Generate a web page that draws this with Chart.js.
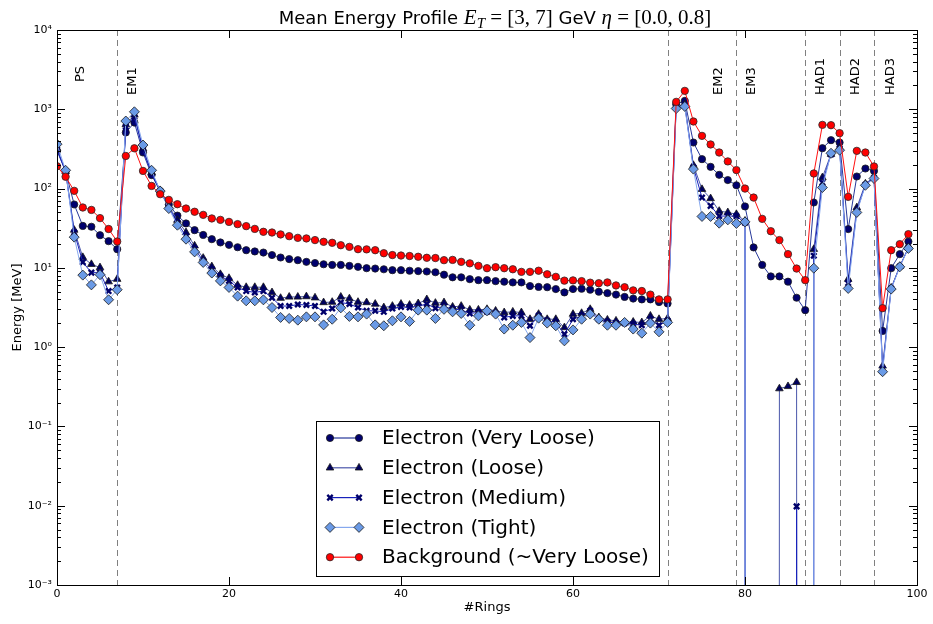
<!DOCTYPE html>
<html lang="en">
<head>
<meta charset="utf-8">
<script src="https://cdn.jsdelivr.net/npm/chart.js"></script>
<style>
  html, body { margin: 0; padding: 0; background: #fff; }
  #wrap { width: 933px; height: 624px; }
</style>
</head>
<body>
<div id="wrap"><canvas id="profileChart"></canvas></div>
<script>
// ring index on the x axis
const rings = Array.from({ length: 100 }, (_, i) => i);

// mean energy per ring [MeV] (0 = empty ring, below the axis)
const veryLoose = [
  299, 165, 63, 33.8, 33, 25.8, 21.7, 17.2, 510, 680, 285, 148, 93, 63, 45.6, 36.3, 29.9,
  26, 23, 20.9, 19.5, 18.2, 16.7, 16.1, 15.6, 14.5, 13.5, 12.9, 12.5, 11.9, 11.5, 11.1, 10.9, 10.9,
  10.6, 10.3, 9.9, 9.8, 9.6, 9.35, 9.35, 9.2, 9.1, 9.0, 8.8, 8.2,
  7.6, 7.6, 7.2, 7.0, 7.0, 6.8, 6.7, 6.55, 6.55, 5.9, 5.75, 5.7, 5.4, 4.9, 5.4, 5.45, 5.3, 5.0,
  4.8, 4.6, 4.3, 4.1, 4.0, 4.0, 3.7, 3.55,
  1160, 1276, 381, 235, 188, 149, 128, 110, 59.5, 18.1, 10.9, 7.8, 7.8, 6.7, 4.2, 2.93,
  66.7, 323, 408, 381, 30.8, 142, 179, 167, 1.6, 9.9, 14.9, 21.5
];
const loose = [
  320, 165, 30, 13.6, 11.1, 10.1, 6.7, 7.2, 640, 850, 320, 160, 95, 60, 40, 28, 19,
  13.3, 10.4, 8.3, 7.4, 6.05, 5.7, 5.7, 5.7, 4.9, 4.15, 4.3, 4.3, 4.35, 4.2, 3.66, 3.7, 4.3,
  4.1, 3.7, 3.66, 3.5, 3.16, 3.3, 3.5, 3.4, 3.56, 4.0, 3.6, 3.66,
  3.22, 3.3, 2.96, 2.96, 3.01, 2.87, 2.74, 2.79, 2.74, 2.25, 2.61, 2.25, 2.25, 1.77, 2.61, 2.68, 3.01, 2.37,
  2.21, 2.15, 2.05, 2.08, 2.05, 2.48, 2.25, 2.3,
  1100, 1150, 197, 98, 75, 52, 50, 47.5, 39, 0, 0, 0, 0.30, 0.32, 0.36, 0,
  17.2, 138, 272, 330, 7.2, 57.7, 115, 140, 0.58, 5.6, 10.5, 18
];
const medium = [
  310, 165, 28, 11.8, 8.7, 8.7, 5.1, 5.65, 600, 800, 310, 155, 92, 58, 37, 25, 17.5,
  12.2, 9.6, 7.9, 6.85, 5.66, 5.1, 4.9, 5.1, 4.2, 3.3, 3.3, 3.45, 3.4, 3.3, 2.79, 3.07, 3.66,
  3.5, 3.16, 2.87, 2.87, 2.79, 3.07, 3.22, 3.16, 3.3, 3.5, 3.1, 3.26,
  3.01, 2.96, 2.66, 2.74, 2.79, 2.68, 2.37, 2.48, 2.48, 1.86, 2.48, 2.15, 2.05, 1.46, 2.25, 2.48, 2.87, 2.25,
  2.08, 2.01, 2.01, 1.95, 1.89, 2.25, 1.89, 2.15,
  1080, 1120, 185, 77, 60.5, 45, 45, 45, 37, 0, 0, 0, 0, 0, 0.0098, 0,
  14.2, 119, 270, 320, 6.4, 52, 112, 137, 0.53, 5.5, 10.4, 17.8
];
const tight = [
  363, 170, 24.4, 8.1, 6.1, 8.2, 3.96, 5.3, 711, 930, 354, 170, 93, 56, 34.5, 23, 15.9,
  11.7, 8.6, 6.85, 5.66, 4.4, 3.84, 3.84, 3.95, 3.16, 2.37, 2.3, 2.19, 2.41, 2.41, 1.91, 2.25, 3.13,
  2.44, 2.41, 2.61, 1.91, 1.86, 2.15, 2.41, 2.11, 2.93, 2.93, 2.3, 3.0,
  2.79, 2.66, 1.89, 2.48, 2.87, 2.61, 1.69, 1.89, 2.05, 1.32, 2.32, 2.01, 1.86, 1.2, 1.65, 2.25, 2.61, 2.25,
  1.89, 1.89, 2.05, 1.69, 1.5, 2.01, 1.56, 2.05,
  1024, 1085, 176, 44.5, 44.5, 36.6, 40.3, 36.3, 38, 0, 0, 0, 0, 0, 0, 0,
  9.9, 103, 279, 305, 5.5, 50, 110, 134, 0.49, 5.4, 10.3, 17.6
];
const background = [
  191, 141, 93.6, 57.7, 53.8, 42.4, 30.9, 21.5, 258, 322, 167, 108, 85, 72, 63.5, 56, 51,
  46.6, 42, 40.3, 38, 35.6, 33.6, 31, 28.5, 27.9, 26.4, 25.1, 23.9, 23.5, 22.4, 21.3, 20.7, 19.3,
  18.4, 17.2, 17.1, 16.7, 15.3, 14.5, 14.3, 14.1, 13.8, 13.4, 13.3, 12.5,
  12.6, 11.9, 11.4, 10.6, 9.9, 10.2, 9.9, 9.6, 8.9, 8.9, 9.2, 8.3, 7.7, 6.9, 6.95, 6.8, 6.5, 6.4,
  6.55, 6.0, 5.7, 5.2, 5.1, 4.6, 4.0, 4.0,
  1240, 1707, 702, 462, 360, 285, 220, 171, 100, 77, 41.5, 29, 22.4, 14.9, 9.8, 7.0,
  155, 636, 630, 500, 78.6, 299, 285, 190, 3.1, 16.7, 19.9, 26.6
];

const seriesLabels = ['Electron (Very Loose)', 'Electron (Loose)', 'Electron (Medium)', 'Electron (Tight)', 'Background (~Very Loose)'];
const layerBounds = [7, 71, 79, 87, 91, 95];
const layerNames = ['PS', 'EM1', 'EM2', 'EM3', 'HAD1', 'HAD2', 'HAD3'];
const yTicks = [1e-3, 1e-2, 1e-1, 1, 10, 100, 1000, 10000];

// styling per series (same order as seriesLabels)
const looks = [
  { line: '#27389a', fill: '#00006e', edge: '#1a1a1a', style: 'circle', r: 3.6, ew: 0.8 },
  { line: '#4a56aa', fill: '#00005e', edge: '#1a1a1a', style: 'triangle', r: 4.4, ew: 0.8 },
  { line: '#1822bb', fill: '#00006a', edge: '#00006a', style: 'crossRot', r: 3.8, ew: 2.4 },
  { line: '#86a8ee', fill: '#6a9ae6', edge: '#1a1a1a', style: 'rectRot', r: 5.0, ew: 0.8 },
  { line: '#ff1010', fill: '#ff0000', edge: '#2a2a2a', style: 'circle', r: 3.7, ew: 0.8 }
];
const values = [veryLoose, loose, medium, tight, background];

// non-positive values are pushed far below the axis (like matplotlib's clip)
const clipLog = v => (v > 0 ? v : 1e-300);

const datasets = values.map((vals, k) => ({
  label: seriesLabels[k],
  data: rings.map((r, i) => ({ x: r, y: clipLog(vals[i]) })),
  borderColor: looks[k].line,
  borderWidth: 1,
  pointStyle: looks[k].style,
  pointRadius: looks[k].r,
  pointBackgroundColor: looks[k].fill,
  pointBorderColor: looks[k].edge,
  pointBorderWidth: looks[k].ew,
  tension: 0,
  clip: 0,
  order: values.length - k
}));

const SUP = { '-': '\u207b', '0': '\u2070', '1': '\u00b9', '2': '\u00b2', '3': '\u00b3', '4': '\u2074' };
function powLabel(v) {
  const e = Math.round(Math.log10(v));
  return '10' + String(e).split('').map(c => SUP[c]).join('');
}

function drawMarker(ctx, look, x, y) {
  const r = look.r;
  ctx.save();
  ctx.fillStyle = look.fill;
  ctx.strokeStyle = look.edge;
  ctx.lineWidth = look.ew;
  ctx.beginPath();
  if (look.style === 'circle') {
    ctx.arc(x, y, r, 0, Math.PI * 2);
  } else if (look.style === 'triangle') {
    ctx.moveTo(x, y - r);
    ctx.lineTo(x + r * 0.866, y + r * 0.5);
    ctx.lineTo(x - r * 0.866, y + r * 0.5);
    ctx.closePath();
  } else if (look.style === 'rectRot') {
    ctx.moveTo(x, y - r);
    ctx.lineTo(x + r, y);
    ctx.lineTo(x, y + r);
    ctx.lineTo(x - r, y);
    ctx.closePath();
  } else if (look.style === 'crossRot') {
    const d = r * 0.707;
    ctx.moveTo(x - d, y - d); ctx.lineTo(x + d, y + d);
    ctx.moveTo(x - d, y + d); ctx.lineTo(x + d, y - d);
    ctx.stroke();
    ctx.restore();
    return;
  }
  ctx.fill();
  ctx.stroke();
  ctx.restore();
}

const decorations = {
  id: 'decorations',
  beforeDatasetsDraw(chart) {
    const { ctx, chartArea: a, scales: { x } } = chart;
    ctx.save();
    ctx.strokeStyle = '#808080';
    ctx.lineWidth = 1;
    ctx.setLineDash([6, 4]);
    layerBounds.forEach(b => {
      const px = Math.round(x.getPixelForValue(b)) + 0.5;
      ctx.beginPath();
      ctx.moveTo(px, a.top);
      ctx.lineTo(px, a.bottom);
      ctx.stroke();
    });
    ctx.restore();
  },
  afterDraw(chart) {
    const { ctx, chartArea: a, scales: { x, y } } = chart;
    ctx.save();

    // frame
    ctx.strokeStyle = '#000';
    ctx.lineWidth = 1;
    ctx.strokeRect(Math.round(a.left) + 0.5, Math.round(a.top) + 0.5,
      Math.round(a.right - a.left), Math.round(a.bottom - a.top));

    // inward ticks on all four sides
    ctx.beginPath();
    for (let e = -3; e <= 4; e++) {
      const py = Math.round(y.getPixelForValue(Math.pow(10, e))) + 0.5;
      ctx.moveTo(a.left, py); ctx.lineTo(a.left + 8, py);
      ctx.moveTo(a.right, py); ctx.lineTo(a.right - 8, py);
      if (e < 4) {
        for (let m = 2; m <= 9; m++) {
          const pm = Math.round(y.getPixelForValue(m * Math.pow(10, e))) + 0.5;
          ctx.moveTo(a.left, pm); ctx.lineTo(a.left + 4, pm);
          ctx.moveTo(a.right, pm); ctx.lineTo(a.right - 4, pm);
        }
      }
    }
    for (let v = 0; v <= 100; v += 20) {
      const px = Math.round(x.getPixelForValue(v)) + 0.5;
      ctx.moveTo(px, a.bottom); ctx.lineTo(px, a.bottom - 8);
      ctx.moveTo(px, a.top); ctx.lineTo(px, a.top + 8);
    }
    ctx.stroke();

    // calorimeter layer names
    ctx.fillStyle = '#000';
    ctx.font = '13px "DejaVu Sans"';
    ctx.textAlign = 'left';
    ctx.textBaseline = 'middle';
    const nameX = [2.7, 8.8, 76.9, 80.8, 88.8, 92.9, 96.9];
    const nameBottom = [82, 95, 95, 95, 95, 95, 95];
    layerNames.forEach((n, i) => {
      ctx.save();
      ctx.translate(x.getPixelForValue(nameX[i]), nameBottom[i]);
      ctx.rotate(-Math.PI / 2);
      ctx.fillText(n, 0, 0);
      ctx.restore();
    });

    // axis titles
    ctx.textAlign = 'center';
    ctx.font = '13px "DejaVu Sans"';
    ctx.fillText('#Rings', (a.left + a.right) / 2, 608);
    ctx.save();
    ctx.translate(18, (a.top + a.bottom) / 2);
    ctx.rotate(-Math.PI / 2);
    ctx.fillText('Energy [MeV]', 0, 0);
    ctx.restore();

    // title with math parts
    const parts = [
      { t: 'Mean Energy Profile ', f: '18px "DejaVu Sans"', dy: 0 },
      { t: 'E', f: 'italic 21px "Liberation Serif"', dy: 0 },
      { t: 'T', f: 'italic 15px "Liberation Serif"', dy: 4 },
      { t: ' = [3, 7]', f: '21px "Liberation Serif"', dy: 0 },
      { t: ' GeV ', f: '18px "DejaVu Sans"', dy: 0 },
      { t: '\u03b7', f: 'italic 21px "Liberation Serif"', dy: 0 },
      { t: ' = [0.0, 0.8]', f: '21px "Liberation Serif"', dy: 0 }
    ];
    let total = 0;
    parts.forEach(p => { ctx.font = p.f; p.w = ctx.measureText(p.t).width; total += p.w; });
    let tx = 495 - total / 2;
    ctx.textAlign = 'left';
    ctx.textBaseline = 'alphabetic';
    parts.forEach(p => { ctx.font = p.f; ctx.fillText(p.t, tx, 24 + p.dy); tx += p.w; });

    // legend
    const box = { l: 316, t: 421, r: 659, b: 576 };
    ctx.fillStyle = '#fff';
    ctx.fillRect(box.l, box.t, box.r - box.l, box.b - box.t);
    ctx.strokeStyle = '#000';
    ctx.lineWidth = 1;
    ctx.strokeRect(box.l + 0.5, box.t + 0.5, box.r - box.l, box.b - box.t);
    ctx.font = '20px "DejaVu Sans"';
    ctx.textBaseline = 'middle';
    seriesLabels.forEach((lab, k) => {
      const ly = 438 + k * 29.8;
      ctx.strokeStyle = looks[k].line;
      ctx.lineWidth = 1.2;
      ctx.beginPath();
      ctx.moveTo(330, ly); ctx.lineTo(359, ly);
      ctx.stroke();
      drawMarker(ctx, looks[k], 330, ly);
      drawMarker(ctx, looks[k], 359, ly);
      ctx.fillStyle = '#000';
      ctx.fillText(lab, 382, ly + 1);
    });

    ctx.restore();
  }
};

new Chart(document.getElementById('profileChart'), {
  type: 'line',
  data: { datasets },
  options: {
    responsive: true,
    maintainAspectRatio: false,
    animation: false,
    layout: { padding: { top: 30, right: 16, left: 0, bottom: 0 } },
    scales: {
      x: {
        type: 'linear', min: 0, max: 100,
        grid: { display: false, drawTicks: false },
        border: { display: false },
        ticks: { stepSize: 20, color: '#000', padding: 3, maxRotation: 0, font: { family: 'DejaVu Sans', size: 11 } },
        afterFit(s) { s.height = 39; }
      },
      y: {
        type: 'logarithmic', min: 1e-3, max: 1e4,
        grid: { display: false, drawTicks: false },
        border: { display: false },
        afterBuildTicks(s) { s.ticks = yTicks.map(v => ({ value: v })); },
        ticks: { autoSkip: false, color: '#000', padding: 5, font: { family: 'DejaVu Sans', size: 11 }, callback: v => powLabel(v) },
        afterFit(s) { s.width = 57; }
      }
    },
    plugins: {
      legend: { display: false },
      title: { display: false },
      tooltip: { enabled: false }
    }
  },
  plugins: [decorations]
});
</script>
</body>
</html>
